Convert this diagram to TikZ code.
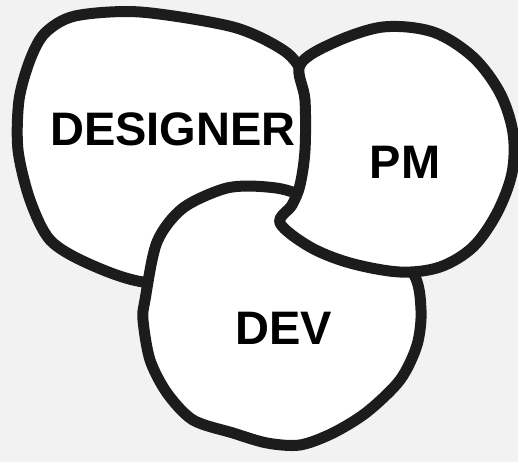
\documentclass[tikz,border=0pt]{standalone}
\usepackage{fontspec}
\setmainfont{Liberation Sans}
\usetikzlibrary{positioning}
\definecolor{bggray}{HTML}{F2F2F2}
\definecolor{inkblack}{HTML}{1C1C1C}

\begin{document}
\begin{tikzpicture}[x=1pt,y=-1pt,
  blob/.style={draw=inkblack,fill=white,line width=11pt,line join=round},
  role/.style={font=\fontsize{47}{53}\selectfont\bfseries,inner sep=0pt}]
\fill[bggray](0,0)rectangle(518,462);
\useasboundingbox (0,0) rectangle (518,462);

% designer blob (bottom)
\draw[blob] plot[smooth cycle] coordinates {(75,16) (140,12) (233,27) (283,50) (302,72) (315,110) (312,165) (300,230) (230,285) (143,282) (87,263) (50,240) (30,200) (18,150) (19,100) (30,60) (45,33)};

% dev blob (middle)
\draw[blob] plot[smooth cycle] coordinates {(145,300) (157,242) (183,208) (227,188) (267,187) (300,195) (370,232) (413,273) (421,310) (417,345) (400,380) (367,412) (333,433) (300,445) (267,443) (233,433) (193,420) (167,393) (150,360) (143,320)};

% pm blob (top)
\draw[blob] plot[smooth cycle, tension=0.55] coordinates {(300,65) (333,43) (383,27) (433,32) (473,57) (500,93) (513,133) (512,173) (497,213) (473,247) (440,267) (400,272) (350,263) (310,247) (280,223) (292,205) (300,185) (305,150) (305,100)};

\node[role] (designer) at (173,129) {DESIGNER};
\node[role] (pm) at (405,162) {PM};
\node[role] (dev) at (284,328) {DEV};
\end{tikzpicture}
\end{document}
